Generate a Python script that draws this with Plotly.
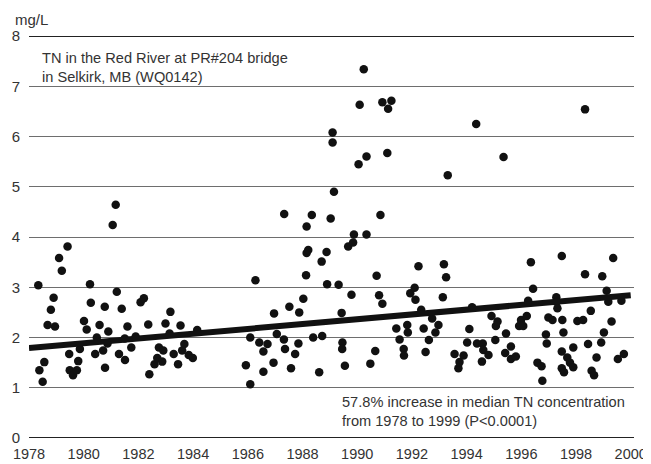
import plotly.graph_objects as go

# Sample dates (decimal year) and total nitrogen (mg/L)
sample_year = [
    1978.34, 1978.38, 1978.50, 1978.56, 1978.68, 1978.80, 1978.90, 1978.95, 1979.10, 1979.20,
    1979.41, 1979.47, 1979.49, 1979.61, 1979.75, 1979.80, 1979.86, 1980.01, 1980.11, 1980.23,
    1980.26, 1980.42, 1980.48, 1980.58, 1980.71, 1980.77, 1980.78, 1980.87, 1980.90, 1981.06,
    1981.17, 1981.21, 1981.29, 1981.39, 1981.50, 1981.51, 1981.60, 1981.74, 1981.90, 1982.08,
    1982.20, 1982.36, 1982.40, 1982.59, 1982.69, 1982.75, 1982.87, 1982.91, 1982.99, 1983.14,
    1983.17, 1983.29, 1983.45, 1983.54, 1983.60, 1983.68, 1983.84, 1983.99, 1984.15,
    1985.93, 1986.09, 1986.09, 1986.28, 1986.42, 1986.57, 1986.57, 1986.72, 1986.94, 1986.96,
    1987.06, 1987.32, 1987.33, 1987.36, 1987.52, 1987.58, 1987.73, 1987.85, 1987.88, 1988.03,
    1988.13, 1988.15, 1988.15, 1988.21, 1988.34, 1988.39, 1988.61, 1988.70, 1988.72, 1988.88,
    1988.90, 1989.03, 1989.10, 1989.10, 1989.15,
    1989.32, 1989.43, 1989.46, 1989.45, 1989.55, 1989.67, 1989.79, 1989.85, 1989.88, 1990.05,
    1990.09, 1990.24, 1990.34, 1990.34, 1990.48, 1990.66, 1990.71, 1990.80, 1990.85, 1990.92,
    1990.92, 1991.10, 1991.13, 1991.25,
    1991.43, 1991.55, 1991.70, 1991.71, 1991.83, 1991.85, 1991.94, 1992.10, 1992.13, 1992.24,
    1992.34, 1992.43, 1992.50, 1992.62, 1992.74, 1992.86, 1992.97, 1993.13, 1993.17, 1993.25,
    1993.31, 1993.56, 1993.70, 1993.74, 1993.89, 1994.02, 1994.10, 1994.20, 1994.35, 1994.38,
    1994.56, 1994.59, 1994.61,
    1994.80, 1994.91, 1995.05, 1995.07, 1995.13, 1995.35, 1995.41, 1995.44, 1995.62, 1995.62,
    1995.80, 1995.92, 1995.99, 1996.07, 1996.20, 1996.25, 1996.35, 1996.43, 1996.59, 1996.74,
    1996.77, 1996.90, 1996.93, 1996.99, 1997.14, 1997.28, 1997.30, 1997.32, 1997.48, 1997.48,
    1997.48, 1997.50, 1997.54, 1997.56, 1997.68, 1997.78, 1997.90, 1997.90, 1998.05, 1998.26,
    1998.33, 1998.33, 1998.44, 1998.54, 1998.57, 1998.66, 1998.75, 1998.92, 1998.96, 1999.02,
    1999.12, 1999.18, 1999.30, 1999.36, 1999.53, 1999.66, 1999.75,
]
tn_mg_l = [
    3.04, 1.35, 1.12, 1.51, 2.25, 2.55, 2.79, 2.22, 3.58, 3.33,
    3.81, 1.67, 1.35, 1.25, 1.35, 1.53, 1.77, 2.33, 2.16, 3.06,
    2.69, 1.67, 2.00, 2.25, 1.74, 2.61, 1.40, 1.88, 2.12, 4.24,
    4.64, 2.91, 1.67, 2.57, 1.98, 1.55, 2.22, 1.80, 2.02, 2.70,
    2.78, 2.26, 1.27, 1.47, 1.59, 1.80, 1.52, 1.74, 2.28, 2.08,
    2.51, 1.67, 1.47, 2.24, 1.74, 1.87, 1.65, 1.59, 2.15,
    1.45, 1.07, 2.00, 3.14, 1.90, 1.72, 1.32, 1.87, 1.50, 2.48,
    2.07, 1.96, 4.46, 1.77, 2.61, 1.39, 1.67, 1.88, 2.50, 2.77,
    3.24, 3.68, 4.21, 3.74, 4.44, 2.00, 1.31, 3.51, 2.03, 3.70,
    3.06, 4.37, 6.08, 5.88, 4.90,
    3.05, 2.49, 1.90, 1.77, 1.44, 3.81, 2.85, 3.89, 4.05, 5.45,
    6.63, 7.34, 5.60, 4.05, 1.48, 1.73, 3.23, 2.84, 4.44, 6.68,
    2.67, 5.67, 6.55, 6.71,
    2.18, 1.96, 1.77, 1.64, 2.25, 2.10, 2.88, 2.99, 2.75, 3.42,
    2.55, 2.18, 1.71, 1.95, 2.38, 2.10, 2.25, 2.80, 3.46, 3.20,
    5.23, 1.67, 1.39, 1.51, 1.64, 1.90, 2.17, 2.60, 6.25, 1.88,
    1.52, 1.88, 1.75,
    1.65, 2.43, 1.95, 2.23, 2.32, 5.59, 1.69, 2.08, 1.82, 1.57,
    1.62, 2.23, 2.35, 2.23, 2.43, 2.73, 3.50, 2.97, 1.50, 1.43,
    1.14, 2.06, 1.88, 2.40, 2.35, 2.80, 2.71, 2.58, 3.62, 1.72,
    1.39, 2.35, 2.10, 1.31, 1.60, 1.50, 1.80, 1.41, 2.33, 2.35,
    3.26, 6.54, 1.87, 2.53, 1.34, 1.25, 1.60, 1.90, 3.22, 2.10,
    2.93, 2.71, 2.32, 3.58, 1.57, 2.73, 1.67,
]

# Trend of median TN
trend_year = [1978, 2000]
trend_tn = [1.79, 2.84]

y_ticks = [0, 1, 2, 3, 4, 5, 6, 7, 8]
x_ticks = [1978, 1980, 1982, 1984, 1986, 1988, 1990, 1992, 1994, 1996, 1998, 2000]

FONT = "Liberation Sans, Arial, sans-serif"
TXT = "#333333"

fig = go.Figure()
fig.add_trace(go.Scatter(
    x=sample_year, y=tn_mg_l, mode="markers",
    marker=dict(size=8.5, color="#111111", line=dict(width=0)),
    hoverinfo="x+y", showlegend=False,
))
fig.add_trace(go.Scatter(
    x=trend_year, y=trend_tn, mode="lines",
    line=dict(color="#111111", width=6),
    hoverinfo="skip", showlegend=False,
))

for yv in (0, 8):
    fig.add_shape(type="line", xref="paper", x0=0, x1=1, yref="y", y0=yv, y1=yv,
                  line=dict(color="#222222", width=2), layer="below")

# page body has an 8px default margin, so the figure is sized to fit the window
fig.update_layout(
    width=643, height=456,
    margin=dict(l=21, r=17, t=28, b=26, pad=0, autoexpand=False),
    paper_bgcolor="white", plot_bgcolor="white",
    font=dict(family=FONT, size=14, color=TXT),
    xaxis=dict(
        range=[1978, 2000.12], tickvals=x_ticks, ticktext=[str(v) for v in x_ticks],
        showgrid=False, zeroline=False, showline=False, ticks="", automargin=False,
        tickfont=dict(size=14.5, color=TXT), ticklabelstandoff=5,
        ticklabeloverflow="allow",
    ),
    yaxis=dict(
        range=[0, 8], tickvals=y_ticks, ticktext=[str(v) for v in y_ticks],
        showgrid=True, gridcolor="#6e6e6e", gridwidth=1.3, automargin=False,
        zeroline=False, showline=False, ticks="",
        tickfont=dict(size=15, color=TXT), ticklabelstandoff=8,
    ),
    annotations=[
        dict(text="mg/L", xref="paper", yref="paper", x=-0.026, y=1.0, yshift=17,
             xanchor="left", yanchor="middle", showarrow=False,
             font=dict(size=15, color=TXT)),
        dict(text="TN in the Red River at PR#204 bridge<br>in Selkirk, MB (WQ0142)",
             xref="paper", yref="y", x=0.018, y=7.76, xanchor="left", yanchor="top",
             align="left", showarrow=False, font=dict(size=14.6, color=TXT)),
        dict(text="57.8% increase in median TN concentration<br>from 1978 to 1999 (P<0.0001)",
             xref="paper", yref="y", x=0.514, y=0.91, xanchor="left", yanchor="top",
             align="left", showarrow=False, font=dict(size=14.6, color=TXT)),
    ],
)

fig.write_html("out.html")
